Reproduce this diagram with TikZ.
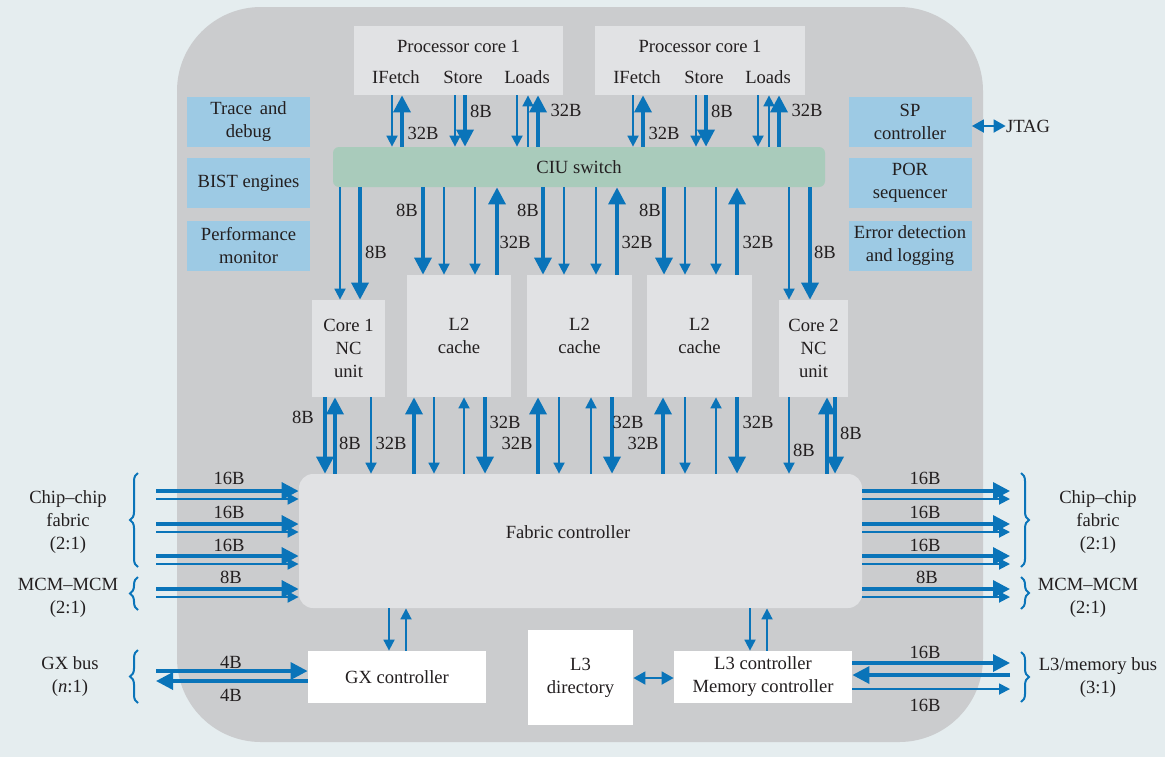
\documentclass[tikz,border=0pt]{standalone}
\usepackage{fontspec}
\setmainfont{Liberation Serif}
\usetikzlibrary{arrows.meta,decorations.pathreplacing}

\definecolor{pagebg}{HTML}{E5EDEF}
\definecolor{chipgrey}{HTML}{CBCCCE}
\definecolor{unitgrey}{HTML}{E1E2E4}
\definecolor{ciugreen}{HTML}{A9CBBB}
\definecolor{sideblue}{HTML}{9DCAE4}
\definecolor{busblue}{HTML}{0A74B9}
\definecolor{inkcol}{HTML}{231F20}

\begin{document}
\begin{tikzpicture}[x=0.5pt,y=-0.5pt,
    font=\fontsize{9.3}{11.5}\selectfont,
    every node/.style={text=inkcol},
    unit/.style={fill=unitgrey, inner sep=0pt, align=center},
    sidebox/.style={fill=sideblue, inner sep=0pt, align=center,
      minimum width=61.5pt, minimum height=25pt},
    ctrl/.style={fill=white, inner sep=0pt, align=center},
    thinarr/.style={busblue, line width=0.9pt, -{Triangle[width=5.5pt,length=5.5pt]}},
    thickarr/.style={busblue, line width=1.7pt, -{Triangle[width=8.5pt,length=8.5pt]}},
    botharr/.style={busblue, line width=0.9pt,
      {Triangle[width=6.5pt,length=6pt]}-{Triangle[width=6.5pt,length=6pt]}},
    brace/.style={busblue, line width=1pt, decorate,
      decoration={brace, amplitude=4pt}},
    width/.style={inner sep=0pt},
    side/.style={align=center, inner sep=0pt}
  ]
  \useasboundingbox (0,0) rectangle (1165,757);
  \fill[pagebg] (0,0) rectangle (1165,757);
  \fill[chipgrey, rounded corners=42pt] (177,7) rectangle (983,742);

  % processor cores and switch
  \node[unit, minimum width=104.5pt, minimum height=34.5pt] (pc1) at (458.5,60.5) {};
  \node[unit, minimum width=105pt, minimum height=34.5pt] (pc2) at (700,60.5) {};
  \node (pc1name) at (458.5,46) {Processor core 1};
  \node (pc2name) at (700,46) {Processor core 1};
  \foreach \p/\d in {pc1/0, pc2/241} {
    \node (\p if) at (396+\d,77) {IFetch};
    \node (\p st) at (463+\d,77) {Store};
    \node (\p ld) at (527+\d,77) {Loads};
  }
  \node[fill=ciugreen, rounded corners=3pt, minimum width=246pt, minimum height=20pt,
    inner sep=0pt] (ciu) at (579,167) {CIU switch};

  % service blocks
  \node[sidebox] (trace) at (248.5,122) {Trace\, and\\debug};
  \node[sidebox] (bist) at (248.5,183) {BIST engines};
  \node[sidebox] (perf) at (248.5,246) {Performance\\monitor};
  \node[sidebox] (spc) at (910,122) {SP\\controller};
  \node[sidebox] (por) at (910,183) {POR\\sequencer};
  \node[sidebox] (err) at (910,246) {Error detection\\and logging};
  \node[inner sep=0pt] (jtag) at (1028,126) {JTAG};

  % caches and NC units
  \node[unit, minimum width=36.5pt, minimum height=48.5pt] (nc1) at (348.5,348.5) {Core 1\\NC\\unit};
  \node[unit, minimum width=52pt, minimum height=61pt] (l2a) at (459,336) {L2\\cache};
  \node[unit, minimum width=52.5pt, minimum height=61pt] (l2b) at (579.5,336) {L2\\cache};
  \node[unit, minimum width=52.5pt, minimum height=61pt] (l2c) at (699.5,336) {L2\\cache};
  \node[unit, minimum width=34.5pt, minimum height=48.5pt] (nc2) at (813.5,348.5) {Core 2\\NC\\unit};

  % fabric and bottom row
  \node[unit, rounded corners=7pt, minimum width=281.5pt, minimum height=67pt] (fab) at (580.5,541) {};
  \node (fabname) at (568,532) {Fabric controller};
  \node[ctrl, minimum width=89pt, minimum height=26pt] (gx) at (397,677) {GX controller};
  \node[ctrl, minimum width=52.5pt, minimum height=47.5pt] (l3d) at (580.5,677.5) {L3\\directory};
  \node[ctrl, minimum width=89pt, minimum height=26pt] (l3c) at (763,677) {L3 controller\\Memory controller};

  % cores <-> CIU switch
  \foreach \p/\x in {pc1/392, pc1/455, pc1/517, pc2/633, pc2/696, pc2/758}
    \draw[thinarr] (\p.south -| \x,0) -- (ciu.north -| \x,0);
  \foreach \p/\x in {pc1/528, pc2/769}
    \draw[thinarr] (ciu.north -| \x,0) -- (\p.south -| \x,0);
  \foreach \p/\x in {pc1/465, pc2/706}
    \draw[thickarr] (\p.south -| \x,0) -- (ciu.north -| \x,0);
  \foreach \p/\x in {pc1/402, pc1/538, pc2/643, pc2/779}
    \draw[thickarr] (ciu.north -| \x,0) -- (\p.south -| \x,0);

  % CIU switch -> caches and NC units
  \foreach \u/\x in {nc1/340, nc2/789, l2a/444, l2a/475, l2b/564, l2b/596, l2c/685, l2c/716}
    \draw[thinarr] (ciu.south -| \x,0) -- (\u.north -| \x,0);
  \foreach \u/\x in {nc1/360, nc2/810, l2a/423, l2b/543, l2c/664}
    \draw[thickarr] (ciu.south -| \x,0) -- (\u.north -| \x,0);
  \foreach \u/\x in {l2a/497, l2b/617, l2c/737}
    \draw[thickarr] (\u.north -| \x,0) -- (ciu.south -| \x,0);

  % caches and NC units <-> fabric
  \foreach \u/\x in {nc1/371, l2a/434, l2b/559, l2c/685, nc2/789}
    \draw[thinarr] (\u.south -| \x,0) -- (fab.north -| \x,0);
  \foreach \u/\x in {l2a/464, l2b/591, l2c/716}
    \draw[thinarr] (fab.north -| \x,0) -- (\u.south -| \x,0);
  \foreach \u/\x in {nc1/325, l2a/485, l2b/612, l2c/737, nc2/835}
    \draw[thickarr] (\u.south -| \x,0) -- (fab.north -| \x,0);
  \foreach \u/\x in {nc1/335, l2a/414, l2b/538, l2c/663, nc2/827}
    \draw[thickarr] (fab.north -| \x,0) -- (\u.south -| \x,0);

  % fabric <-> controllers
  \draw[thinarr] (fab.south -| 389,0) -- (gx.north -| 389,0);
  \draw[thinarr] (gx.north -| 406,0) -- (fab.south -| 406,0);
  \draw[thinarr] (fab.south -| 750,0) -- (l3c.north -| 750,0);
  \draw[thinarr] (l3c.north -| 767,0) -- (fab.south -| 767,0);
  \draw[botharr] (l3d.east |- 0,678) -- (l3c.west |- 0,678);
  \draw[botharr] (spc.east |- jtag) -- (jtag.west);

  % off-chip buses
  \coordinate (leftin) at (156,0);
  \coordinate (rightout) at (1010,0);
  \foreach \a/\b in {491/499, 524/532, 556/564, 589/597} {
    \draw[thickarr] (leftin |- 0,\a) -- (fab.west |- 0,\a);
    \draw[thinarr] (leftin |- 0,\b) -- (fab.west |- 0,\b);
    \draw[thickarr] (fab.east |- 0,\a) -- (rightout |- 0,\a);
    \draw[thinarr] (fab.east |- 0,\b) -- (rightout |- 0,\b);
  }
  \draw[thickarr] (leftin |- 0,671) -- (gx.west |- 0,671);
  \draw[thickarr] (gx.west |- 0,681) -- (leftin |- 0,681);
  \draw[thickarr] (l3c.east |- 0,663) -- (rightout |- 0,663);
  \draw[thickarr] (rightout |- 0,675) -- (l3c.east |- 0,675);
  \draw[thinarr] (l3c.east |- 0,689) -- (rightout |- 0,689);

  % widths
  \foreach \x/\y/\t [count=\i] in {423/133/32B, 481/111/8B, 566/110/32B,
      664/133/32B, 722/111/8B, 807/110/32B,
      376/252/8B, 407/210/8B, 515/242/32B, 528/210/8B, 637/242/32B,
      650/210/8B, 758/242/32B, 825/252/8B,
      303/417/8B, 350/443/8B, 391/443/32B, 505/422/32B, 517/443/32B,
      628/422/32B, 643/443/32B, 758/422/32B, 804/450/8B, 851/433/8B,
      229/478/16B, 229/512/16B, 229/545/16B, 231/577/8B,
      925/478/16B, 925/512/16B, 925/545/16B, 927/577/8B,
      231/662/4B, 231/695/4B, 925/652/16B, 925/705/16B}
    \node[width] (w\i) at (\x,\y) {\t};

  % braces and bus names
  \draw[brace] (138,567) -- (138,473);
  \draw[brace] (138,610) -- (138,577);
  \draw[brace] (138,703) -- (138,650);
  \draw[brace] (1021,473) -- (1021,567);
  \draw[brace] (1021,577) -- (1021,609);
  \draw[brace] (1021,652) -- (1021,702);
  \node[side] (ccl) at (68,522) {Chip\textendash chip\\fabric\\(2:1)};
  \node[side] (mml) at (68,598) {MCM\textendash MCM\\(2:1)};
  \node[side] (gxl) at (70,677) {GX bus\\(\textit{n}:1)};
  \node[side] (ccr) at (1098,522) {Chip\textendash chip\\fabric\\(2:1)};
  \node[side] (mmr) at (1088,598) {MCM\textendash MCM\\(2:1)};
  \node[side] (l3r) at (1098,678) {L3/memory bus\\(3:1)};
\end{tikzpicture}
\end{document}
